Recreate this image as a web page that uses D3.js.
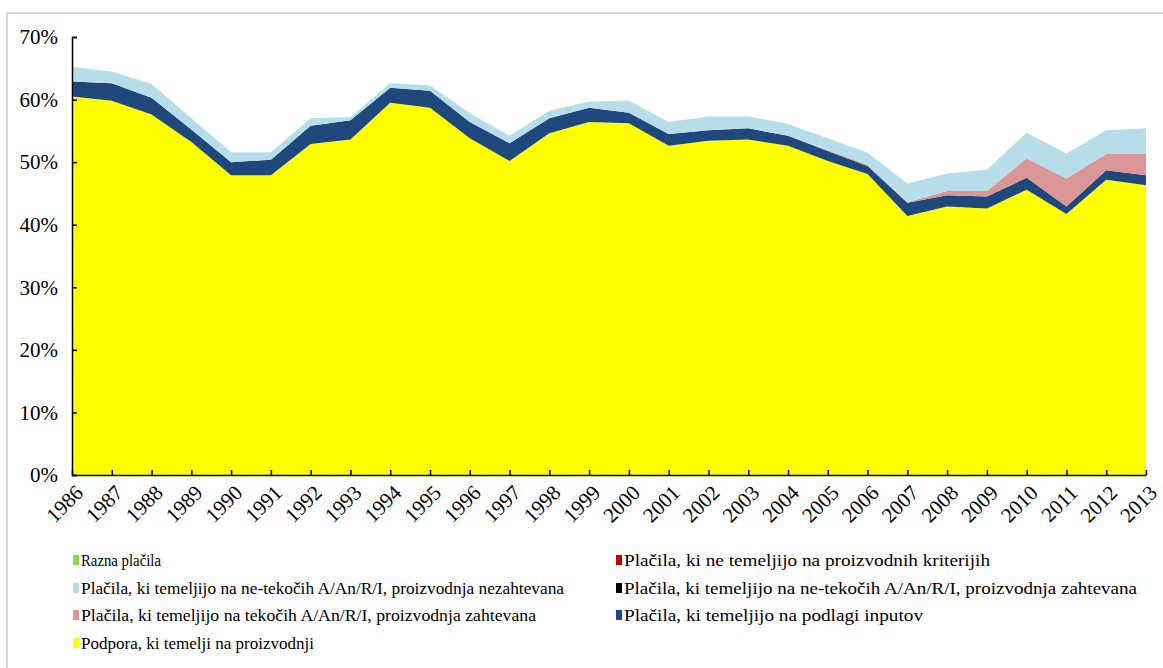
<!DOCTYPE html>
<html><head><meta charset="utf-8">
<script src="https://cdn.jsdelivr.net/npm/d3@7/dist/d3.min.js"></script>
<style>body{margin:0;background:#fff}svg{display:block}svg text{font-family:"Liberation Serif","DejaVu Serif","Times New Roman",serif !important}</style>
</head><body><svg id="c" width="1163" height="668"></svg>
<script>
const years = [1986,1987,1988,1989,1990,1991,1992,1993,1994,1995,1996,1997,1998,1999,2000,2001,2002,2003,2004,2005,2006,2007,2008,2009,2010,2011,2012,2013];
// cumulative tops (percent), converted to layers below
const topYellow = [60.5,59.8,57.6,53.2,47.9,47.9,52.9,53.6,59.5,58.7,53.8,50.2,54.6,56.4,56.2,52.6,53.4,53.6,52.6,50.2,48.1,41.4,42.9,42.6,45.6,41.7,47.2,46.3];
const topBlue   = [62.9,62.6,60.3,55.2,50.0,50.4,55.8,56.7,61.9,61.4,56.4,53.0,57.0,58.7,57.9,54.5,55.1,55.4,54.2,51.8,49.4,43.5,44.7,44.5,47.5,42.9,48.7,47.9];
const topPink   = [62.9,62.6,60.3,55.2,50.0,50.4,55.8,56.7,61.9,61.4,56.4,53.0,57.0,58.7,57.9,54.5,55.1,55.4,54.2,51.9,49.6,43.6,45.4,45.4,50.6,47.4,51.3,51.3];
const topLight  = [65.2,64.5,62.5,57.0,51.6,51.6,57.0,57.2,62.6,62.3,57.8,54.2,58.2,59.7,59.8,56.4,57.3,57.3,56.1,53.8,51.5,46.6,48.2,48.8,54.7,51.4,55.1,55.4];

const podpora   = topYellow;
const inputi    = topBlue.map((v,i)=>+(v-topYellow[i]).toFixed(2));
const tekoci    = topPink.map((v,i)=>+(v-topBlue[i]).toFixed(2));
const netekociZ = years.map(()=>0);
const netekociN = topLight.map((v,i)=>+(v-topPink[i]).toFixed(2));
const neProizv  = years.map(()=>0);
const razna     = years.map(()=>0);

const yTicks = [0,10,20,30,40,50,60,70];

const series = [
  {key:"podpora", name:"Podpora, ki temelji na proizvodnji", values:podpora, color:"#ffff00"},
  {key:"inputi", name:"Plačila, ki temeljijo na podlagi inputov", values:inputi, color:"#1f497d"},
  {key:"tekoci", name:"Plačila, ki temeljijo na tekočih A/An/R/I, proizvodnja zahtevana", values:tekoci, color:"#d99694"},
  {key:"netekociZ", name:"Plačila, ki temeljijo na ne-tekočih A/An/R/I, proizvodnja zahtevana", values:netekociZ, color:"#000000"},
  {key:"netekociN", name:"Plačila, ki temeljijo na ne-tekočih A/An/R/I, proizvodnja nezahtevana", values:netekociN, color:"#b7dde8"},
  {key:"neProizv", name:"Plačila, ki ne temeljijo na proizvodnih kriterijih", values:neProizv, color:"#c00000"},
  {key:"razna", name:"Razna plačila", values:razna, color:"#92d050"}
];
const legendOrder = ["razna","neProizv","netekociN","netekociZ","tekoci","inputi","podpora"];

const svg = d3.select("#c");
svg.append("path").attr("d","M7,668 V13 H1163").attr("fill","none").attr("stroke","#d9d9d9").attr("stroke-width",2);

const x = d3.scaleLinear().domain([years[0], years[years.length-1]]).range([72,1146]);
const y = d3.scaleLinear().domain([0,70]).range([475,37]);

const table = years.map((yr,i)=>{const o={year:yr}; series.forEach(s=>o[s.key]=s.values[i]); return o;});
const stack = d3.stack().keys(series.map(s=>s.key));
const layers = stack(table);
const area = d3.area().x(d=>x(d.data.year)).y0(d=>y(d[0])).y1(d=>y(d[1]));
svg.append("g").selectAll("path").data(layers).join("path")
  .attr("d",area).attr("fill",(d,i)=>series[i].color);

const ya = svg.append("g").attr("transform","translate(72,0)")
  .call(d3.axisRight(y).tickValues(yTicks).tickSize(5).tickFormat(d=>d+"%"));
ya.select(".domain").attr("stroke","#000").attr("stroke-width",1.5);
ya.selectAll(".tick line").attr("stroke","#000").attr("stroke-width",1.5);
ya.selectAll("text").attr("x",-14).attr("text-anchor","end").attr("font-size",21).attr("fill","#000");

const xa = svg.append("g").attr("transform","translate(0,475)")
  .call(d3.axisTop(x).tickValues(years).tickSize(5).tickFormat(d3.format("d")).tickSizeOuter(0));
xa.select(".domain").attr("stroke","#000").attr("stroke-width",1.5);
xa.selectAll(".tick line").attr("stroke","#000").attr("stroke-width",1.5);
xa.selectAll("text").attr("font-size",21).attr("fill","#000")
  .attr("text-anchor","end").attr("dy",0).attr("y",0)
  .attr("transform","translate(12,19) rotate(-45)");

const legendPos = [[73,560],[616,560],[73,588],[616,588],[73,615],[616,615],[73,643]];
const legendLen = {razna:80, neProizv:366, netekociN:483, netekociZ:513, tekoci:455, inputi:299, podpora:233};
const lg = svg.append("g");
legendOrder.forEach((k,i)=>{
  const s = series.find(d=>d.key===k);
  const [lx,ly] = legendPos[i];
  lg.append("rect").attr("x",lx).attr("y",ly-5).attr("width",6).attr("height",10).attr("fill",s.color);
  lg.append("text").attr("x",lx+8).attr("y",ly+6).attr("font-size",17).attr("fill","#000")
    .attr("textLength",legendLen[k]).attr("lengthAdjust","spacingAndGlyphs").text(s.name);
});
</script></body></html>
